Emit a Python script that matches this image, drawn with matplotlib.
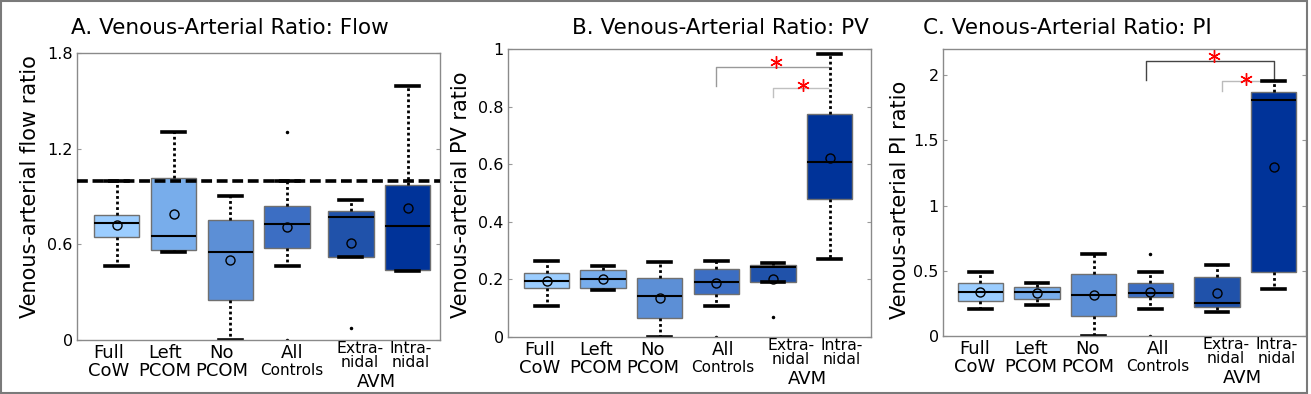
import matplotlib
matplotlib.use("Agg")
import matplotlib.pyplot as plt
from matplotlib.patches import Rectangle

# ---------------- data ----------------
groups = ["Full CoW", "Left PCOM", "No PCOM", "All Controls", "Extra-nidal AVM", "Intra-nidal AVM"]
colors = ["#9BCDFF", "#78ADEB", "#5C8FD6", "#3C6EC3", "#2052AA", "#003399"]

# Panel A: flow ratio  (whislo, q1, median, q3, whishi, mean)
flow_whislo = [0.465, 0.552, 0.0, 0.465, 0.520, 0.433]
flow_q1     = [0.644, 0.567, 0.254, 0.579, 0.523, 0.442]
flow_med    = [0.735, 0.652, 0.554, 0.725, 0.770, 0.712]
flow_q3     = [0.785, 1.017, 0.752, 0.840, 0.810, 0.973]
flow_whishi = [0.996, 1.306, 0.904, 0.996, 0.875, 1.594]
flow_mean   = [0.720, 0.790, 0.502, 0.710, 0.610, 0.830]
flow_fliers = [[], [], [], [1.306, 0.0], [0.073], []]

# Panel B: PV ratio
pv_whislo = [0.109, 0.163, 0.0, 0.109, 0.190, 0.270]
pv_q1     = [0.170, 0.171, 0.067, 0.151, 0.192, 0.480]
pv_med    = [0.194, 0.200, 0.144, 0.190, 0.243, 0.608]
pv_q3     = [0.221, 0.233, 0.205, 0.235, 0.250, 0.774]
pv_whishi = [0.265, 0.245, 0.259, 0.265, 0.258, 0.983]
pv_mean   = [0.194, 0.201, 0.137, 0.187, 0.203, 0.623]
pv_fliers = [[], [], [], [0.0], [0.069], []]

# Panel C: PI ratio
pi_whislo = [0.207, 0.237, 0.0, 0.207, 0.181, 0.357]
pi_q1     = [0.270, 0.286, 0.153, 0.301, 0.224, 0.487]
pi_med    = [0.339, 0.339, 0.311, 0.332, 0.255, 1.806]
pi_q3     = [0.403, 0.378, 0.472, 0.403, 0.454, 1.872]
pi_whishi = [0.492, 0.408, 0.628, 0.492, 0.543, 1.954]
pi_mean   = [0.339, 0.332, 0.311, 0.337, 0.332, 1.296]
pi_fliers = [[], [], [], [0.628, 0.0], [], []]

reference_line = 1.0

# tick label texts
label_top = ["Full", "Left", "No", "All", "Extra-\nnidal", "Intra-\nnidal"]
label_bottom = ["CoW", "PCOM", "PCOM", "Controls", "", ""]
group_label = "AVM"

titles = ["A. Venous-Arterial Ratio: Flow", "B. Venous-Arterial Ratio: PV", "C. Venous-Arterial Ratio: PI"]
ylabels = ["Venous-arterial flow ratio", "Venous-arterial PV ratio", "Venous-arterial PI ratio"]

# ---------------- figure ----------------
W, H = 1311, 394
plt.rcParams['font.family'] = ['DejaVu Sans']
fig = plt.figure(figsize=(W / 100, H / 100), dpi=100)

def fx(px):
    return px / W

def fy(py):
    return 1 - py / H

panels = [
    dict(rect=(77, 53, 440, 340), pos=[1, 2, 3, 4, 5.12, 6.12], xlim=(0.30, 6.69), ylim=(0, 1.8),
         yticks=[0, 0.6, 1.2, 1.8], yticklabels=["0", "0.6", "1.2", "1.8"],
         data=(flow_whislo, flow_q1, flow_med, flow_q3, flow_whishi, flow_mean, flow_fliers),
         title_xy=(230, 28), ylab_xy=(30, 187)),
    dict(rect=(508, 49, 871, 337), pos=[1, 2, 3, 4, 5, 6], xlim=(0.32, 6.73), ylim=(0, 1.0),
         yticks=[0, 0.2, 0.4, 0.6, 0.8, 1.0], yticklabels=["0", "0.2", "0.4", "0.6", "0.8", "1"],
         data=(pv_whislo, pv_q1, pv_med, pv_q3, pv_whishi, pv_mean, pv_fliers),
         title_xy=(720, 28), ylab_xy=(461, 195)),
    dict(rect=(943, 49, 1306, 336), pos=[1, 2, 3, 4, 5.18, 6.18], xlim=(0.34, 6.75), ylim=(0, 2.2),
         yticks=[0, 0.5, 1, 1.5, 2], yticklabels=["0", "0.5", "1", "1.5", "2"],
         data=(pi_whislo, pi_q1, pi_med, pi_q3, pi_whishi, pi_mean, pi_fliers),
         title_xy=(1067, 28), ylab_xy=(900, 200)),
]

# label positions relative to axes width
label_xfrac = [0.088, 0.242, 0.399, 0.592, 0.780, 0.920]
avm_xfrac = 0.824

axes = []
for i, p in enumerate(panels):
    l, t, r, b = p["rect"]
    ax = fig.add_axes([fx(l), fy(b), (r - l) / W, (b - t) / H])
    axes.append(ax)
    wl, q1, md, q3, wh, mn, fl = p["data"]
    stats = []
    for k in range(len(groups)):
        stats.append(dict(whislo=wl[k], q1=q1[k], med=md[k], q3=q3[k], whishi=wh[k],
                          mean=mn[k], fliers=fl[k], label=groups[k]))
    bp = ax.bxp(stats, positions=p["pos"], widths=0.8, capwidths=0.4,
                patch_artist=True, showmeans=True, showfliers=True,
                boxprops=dict(edgecolor="#707070", linewidth=1.0),
                whiskerprops=dict(color="black", linestyle=(0, (1, 1)), linewidth=2.0),
                capprops=dict(color="black", linewidth=2.6),
                medianprops=dict(color="black", linewidth=1.5),
                meanprops=dict(marker="o", markerfacecolor="none", markeredgecolor="black",
                               markersize=6.5, markeredgewidth=1.0),
                flierprops=dict(marker=".", markerfacecolor="black", markeredgecolor="black",
                                markersize=3))
    for patch, c in zip(bp["boxes"], colors):
        patch.set_facecolor(c)
    ax.set_xlim(*p["xlim"])
    ax.set_ylim(*p["ylim"])
    ax.set_yticks(p["yticks"])
    ax.set_yticklabels(p["yticklabels"], fontsize=11.5)
    ax.set_xticks([])
    ax.tick_params(axis="y", direction="in", length=3, color="#999999", right=True, pad=3)
    for s in ax.spines.values():
        s.set_color("#8a8a8a")
        s.set_linewidth(1.0)

    # x labels
    for k in range(len(groups)):
        xf = label_xfrac[k]
        if k < 4:
            ax.annotate(label_top[k], xy=(xf, 0), xycoords="axes fraction",
                        xytext=(0, -18), textcoords="offset pixels",
                        ha="center", va="baseline", fontsize=13)
            ax.annotate(label_bottom[k], xy=(xf, 0), xycoords="axes fraction",
                        xytext=(0, -36 if k < 3 else -35), textcoords="offset pixels",
                        ha="center", va="baseline", fontsize=13 if k < 3 else 11)
        else:
            ax.annotate(label_top[k], xy=(xf, 0), xycoords="axes fraction",
                        xytext=(0, -27), textcoords="offset pixels",
                        ha="center", va="baseline", fontsize=11.3, linespacing=0.9,
                        multialignment="center")
    ax.annotate(group_label, xy=(avm_xfrac, 0), xycoords="axes fraction",
                xytext=(0, -47), textcoords="offset pixels",
                ha="center", va="baseline", fontsize=13)

    fig.text(fx(p["title_xy"][0]), fy(p["title_xy"][1]), titles[i], ha="center", va="center",
             fontsize=15.5)
    fig.text(fx(p["ylab_xy"][0]), fy(p["ylab_xy"][1]), ylabels[i], ha="center", va="center",
             rotation=90, fontsize=15)

# reference line in panel A
axes[0].axhline(reference_line, color="black", linewidth=2.6, linestyle=(0, (3, 1.3)), zorder=5)

# significance brackets
def bracket(ax, pts, color):
    xs = [q[0] for q in pts]
    ys = [q[1] for q in pts]
    ax.plot(xs, ys, color=color, linewidth=1.0, zorder=1, clip_on=False)

def star(ax, x, y):
    ax.plot([x], [y], linestyle="none", marker=(6, 2, 0), markersize=9,
            markeredgecolor="red", markeredgewidth=1.0, color="red", clip_on=False, zorder=6)

axB = axes[1]
bracket(axB, [(4, 0.87), (4, 0.938), (5.97, 0.938)], "#999999")
star(axB, 5.06, 0.956)
bracket(axB, [(5, 0.834), (5, 0.866), (5.97, 0.866)], "#c0c0c0")
star(axB, 5.53, 0.874)

axC = axes[2]
bracket(axC, [(3.92, 1.959), (3.92, 2.11), (6.18, 2.11), (6.18, 1.954)], "#444444")
star(axC, 5.12, 2.15)
bracket(axC, [(5.26, 1.878), (5.26, 1.957), (6.12, 1.957)], "#bbbbbb")
star(axC, 5.69, 1.97)

# figure border
fig.patches.append(Rectangle((fx(1), fy(393)), (1306) / W, 392 / H, transform=fig.transFigure,
                             fill=False, edgecolor="#7a7a7a", linewidth=1.5))

fig.savefig("out.png", dpi=100)
